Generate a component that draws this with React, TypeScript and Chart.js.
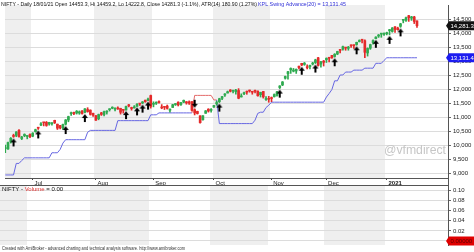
import { useEffect, useRef } from 'react';
import { Chart, registerables } from 'chart.js';

Chart.register(...registerables);

// ---------- data ----------
const dates = [
  '17/06/20','18/06/20','19/06/20','22/06/20','23/06/20','24/06/20','25/06/20','26/06/20','29/06/20','30/06/20',
  '01/07/20','02/07/20','03/07/20','06/07/20','07/07/20','08/07/20','09/07/20','10/07/20','13/07/20','14/07/20','15/07/20','16/07/20','17/07/20','20/07/20','21/07/20','22/07/20','23/07/20','24/07/20','27/07/20','28/07/20','29/07/20','30/07/20','31/07/20',
  '03/08/20','04/08/20','05/08/20','06/08/20','07/08/20','10/08/20','11/08/20','12/08/20','13/08/20','14/08/20','17/08/20','18/08/20','19/08/20','20/08/20','21/08/20','24/08/20','25/08/20','26/08/20','27/08/20','28/08/20','31/08/20',
  '01/09/20','02/09/20','03/09/20','04/09/20','07/09/20','08/09/20','09/09/20','10/09/20','11/09/20','14/09/20','15/09/20','16/09/20','17/09/20','18/09/20','21/09/20','22/09/20','23/09/20','24/09/20','25/09/20','28/09/20','29/09/20','30/09/20',
  '01/10/20','05/10/20','06/10/20','07/10/20','08/10/20','09/10/20','12/10/20','13/10/20','14/10/20','15/10/20','16/10/20','19/10/20','20/10/20','21/10/20','22/10/20','23/10/20','26/10/20','27/10/20','28/10/20','29/10/20','30/10/20',
  '02/11/20','03/11/20','04/11/20','05/11/20','06/11/20','09/11/20','10/11/20','11/11/20','12/11/20','13/11/20','14/11/20','17/11/20','18/11/20','19/11/20','20/11/20','23/11/20','24/11/20','25/11/20','26/11/20','27/11/20',
  '01/12/20','02/12/20','03/12/20','04/12/20','07/12/20','08/12/20','09/12/20','10/12/20','11/12/20','14/12/20','15/12/20','16/12/20','17/12/20','18/12/20','21/12/20','22/12/20','23/12/20','24/12/20','28/12/20','29/12/20','30/12/20','31/12/20',
  '01/01/21','04/01/21','05/01/21','06/01/21','07/01/21','08/01/21','11/01/21','12/01/21','13/01/21','14/01/21','15/01/21','18/01/21',
];

const opens = [
  9876,9863,10119,10318,10347,10529,10235,10337,10311,10382,
  10323,10484,10615,10723,10802,10818,10755,10764,10889,10750,10702,10612,10752,10901,11126,11174,11150,11149,11226,11175,11276,11254,11140,
  11058,10946,11155,11099,11186,11270,11322,11289,11334,11316,11248,11259,11409,11326,11334,11390,11474,11509,11609,11602,11777,
  11464,11500,11540,11355,11362,11400,11251,11350,11452,11540,11455,11539,11555,11550,11560,11270,11208,11052,10910,11140,11288,11244,
  11364,11487,11558,11679,11794,11867,11973,11935,11918,11958,11727,11843,11922,11958,11910,11937,11937,11807,11922,11633,11678,
  11697,11734,11783,12063,12157,12399,12556,12695,12651,12659,12829,12932,12892,12811,12813,12906,12960,13130,12906,13012,
  13062,13121,13215,13177,13265,13394,13441,13500,13470,13571,13573,13606,13713,13764,13741,13304,13473,13672,13815,13910,13980,13970,
  13997,14104,14075,14240,14192,14259,14474,14473,14639,14550,14594,14453.3,
];
const highs = [
  10003,10111,10272,10393,10484,10553,10316,10405,10337,10401,
  10447,10572,10631,10811,10813,10847,10819,10804,10894,10755,10712,10755,10918,11038,11180,11180,11240,11226,11239,11314,11341,11264,11150,
  11059,11112,11176,11217,11232,11300,11374,11337,11373,11323,11257,11396,11460,11361,11418,11490,11498,11562,11617,11686,11794,
  11554,11553,11584,11452,11381,11437,11304,11462,11494,11552,11536,11618,11562,11585,11562,11302,11218,11053,11060,11240,11305,11306,
  11428,11578,11680,11750,11849,11939,11991,11958,11997,12025,11838,11898,11940,11974,11924,11974,11943,11899,11929,11744,11749,
  11726,11836,11929,12131,12280,12474,12643,12769,12750,12730,12829,12934,12963,12879,12873,12969,13079,13146,13000,13036,
  13129,13128,13217,13280,13366,13435,13548,13503,13539,13597,13587,13692,13774,13773,13777,13486,13619,13772,13885,13967,13998,14024,
  14050,14148,14215,14245,14228,14367,14498,14590,14653,14617,14618,14459.2,
];
const lows = [
  9726,9845,10072,10277,10301,10282,10194,10301,10224,10267,
  10299,10461,10562,10695,10689,10676,10714,10713,10773,10560,10578,10562,10719,10836,11064,11087,11113,11104,11113,11151,11180,11076,11026,
  10882,10908,11064,11047,11112,11221,11303,11229,11279,11111,11145,11256,11370,11253,11325,11390,11419,11488,11534,11597,11326,
  11371,11455,11507,11304,11276,11290,11185,11349,11421,11403,11424,11524,11466,11458,11230,11082,11113,10790,10894,11139,11183,11179,
  11347,11430,11525,11630,11744,11867,11906,11867,11822,11661,11723,11806,11822,11898,11824,11875,11755,11723,11684,11606,11535,
  11557,11723,11756,12027,12131,12367,12365,12571,12625,12570,12730,12847,12860,12730,12730,12872,12924,12834,12790,12835,
  12962,12983,13107,13152,13241,13303,13400,13400,13402,13501,13464,13580,13697,13660,13131,13192,13432,13622,13811,13860,13865,13936,
  13951,13953,14048,14039,14122,14222,14383,14432,14435,14471,14358,14222.8,
];
const closes = [
  9881,10091,10244,10311,10471,10305,10288,10383,10312,10302,
  10430,10552,10607,10764,10800,10706,10813,10768,10802,10607,10618,10740,10902,11022,11162,11132,11215,11194,11132,11300,11202,11102,11073,
  10892,11095,11102,11200,11214,11270,11322,11308,11300,11178,11247,11385,11408,11312,11372,11466,11472,11549,11559,11647,11388,
  11470,11535,11527,11333,11355,11317,11278,11449,11464,11440,11521,11604,11516,11505,11250,11153,11132,10806,11050,11228,11222,11248,
  11417,11503,11662,11738,11834,11914,11930,11935,11971,11680,11762,11873,11897,11937,11896,11930,11768,11889,11730,11670,11642,
  11669,11813,11908,12120,12264,12461,12631,12749,12691,12720,12780,12874,12938,12772,12860,12926,13055,12858,12987,12969,
  13109,13114,13134,13258,13356,13393,13529,13479,13514,13558,13567,13683,13741,13761,13328,13466,13602,13749,13873,13932,13982,13982,
  14018,14133,14199,14146,14137,14347,14485,14564,14565,14596,14433,14281.3,
];

// KPL Swing Advance(20) stop line
const stopLine = [
  8930,8930,8930,8930,9344,9344,9448,9544,9544,9544,
  9544,9544,9544,9544,9544,9544,9544,9726,9726,9726,
  9845,10072,10194,10194,10194,10194,10194,10194,10194,10194,
  10461,10528,10528,10528,10528,10528,10528,10528,10528,10528,
  10528,10877,10877,10877,10877,10877,10877,10877,10877,10877,
  10877,10877,10877,11086,11086,11086,11155,11155,11155,11155,
  11155,11155,11155,11155,11155,11155,11155,11155,11155,11782,
  11782,11782,11782,11782,11782,11782,11619,11619,10772,10772,
  10772,10772,10772,10772,10772,10772,10772,10772,10772,10772,
  10772,10894,11139,11179,11179,11347,11430,11539,11539,11539,
  11539,11539,11539,11539,11539,11539,11539,11539,11539,11539,
  11539,11539,11539,11539,11539,11539,11539,11723,11850,11992,
  12305,12305,12514,12514,12619,12619,12619,12688,12688,12688,
  12688,12758,12758,12758,12758,12932,12932,12932,13037,13131.45,
  13131.45,13131.45,13131.45,13131.45,13131.45,13131.45,13131.45,13131.45,13131.45,13131.45,
  13131.45,
];
const shortSpans = [[69, 77]]; // bars where the stop is in "short" (red) mode
const buyIdx = [3, 12, 22, 29, 44, 48, 50, 52, 78, 100, 108, 113, 120, 128, 135, 140, 144];
const sellIdx = [69];

const monthLabels = ['Jul', 'Aug', 'Sep', 'Oct', 'Nov', 'Dec', '2021'];
const priceTicks = [9000, 9500, 10000, 10500, 11000, 11500, 12000, 12500, 13000, 13500, 14000, 14500];
const volTicks = [0, 0.02, 0.04, 0.06, 0.08, 0.1];
const volumeLast = 0;

const titleMain = 'NIFTY - Daily 18/01/21 Open 14453.3, Hi 14459.2, Lo 14222.8, Close 14281.3 (-1.1%), ATR(14) 180.90 (1.27%)';
const titleInd = 'KPL Swing Advance(20) = 13,131.45';
const footer = 'Created with AmiBroker - advanced charting and technical analysis software. http://www.amibroker.com';

// ---------- style ----------
const FONT = "'Liberation Sans', Arial, Helvetica, sans-serif";
const GREEN = '#2faa50';
const RED = '#e42a2a';
const BLUE_LINE = '#6767e2';
const RED_LINE = '#e46a6a';
const BAND = '#efefef';
const X_MIN = -0.1;
const X_MAX = 161.3;

// month starts derived from the dates
const monthStart: number[] = [0];
for (let i = 1; i < dates.length; i++) {
  if (dates[i].slice(3, 5) !== dates[i - 1].slice(3, 5)) monthStart.push(i);
}
const greyMonth = monthStart.map((_, k) => k % 2 === 0);

function isShort(i: number) {
  return shortSpans.some(([a, b]) => i >= a && i <= b);
}

function arrowCanvas(up: boolean) {
  const c = document.createElement('canvas');
  c.width = 8;
  c.height = 24;
  const g = c.getContext('2d')!;
  g.fillStyle = '#000';
  g.beginPath();
  if (up) {
    g.moveTo(4, 13); g.lineTo(7, 17); g.lineTo(1, 17);
    g.closePath(); g.fill();
    g.fillRect(3, 17, 2, 4);
  } else {
    g.moveTo(4, 11); g.lineTo(7, 7); g.lineTo(1, 7);
    g.closePath(); g.fill();
    g.fillRect(3, 3, 2, 4);
  }
  return c;
}

const bandsPlugin = {
  id: 'bands',
  beforeDraw(chart: any) {
    const { ctx, chartArea: a, scales } = chart;
    const x = scales.x;
    ctx.save();
    ctx.fillStyle = '#fff';
    ctx.fillRect(0, 0, chart.width, chart.height);
    ctx.fillStyle = BAND;
    for (let k = 0; k < monthStart.length; k++) {
      if (!greyMonth[k]) continue;
      const x0 = Math.max(a.left, Math.round(x.getPixelForValue(monthStart[k] - 0.5)));
      const endV = k + 1 < monthStart.length ? monthStart[k + 1] - 0.5 : X_MAX;
      const x1 = Math.min(a.right, Math.round(x.getPixelForValue(endV)));
      ctx.fillRect(x0, a.top, x1 - x0, a.bottom - a.top);
    }
    ctx.restore();
  },
};

function drawTag(ctx: CanvasRenderingContext2D, x0: number, y: number, w: number, text: string, bg: string, fg: string) {
  ctx.save();
  ctx.fillStyle = bg;
  ctx.beginPath();
  ctx.moveTo(x0 - 3, y);
  ctx.lineTo(x0, y - 4.5);
  ctx.lineTo(x0 + w, y - 4.5);
  ctx.lineTo(x0 + w, y + 4.5);
  ctx.lineTo(x0, y + 4.5);
  ctx.closePath();
  ctx.fill();
  ctx.fillStyle = fg;
  ctx.font = `6px ${FONT}`;
  ctx.textBaseline = 'middle';
  ctx.textAlign = 'left';
  ctx.fillText(text, x0 + 1.5, y + 0.5);
  ctx.restore();
}

function noPad(s: any) {
  s.paddingTop = 0;
  s.paddingBottom = 0;
  s.paddingLeft = 0;
  s.paddingRight = 0;
}

const topDecor = {
  id: 'topDecor',
  beforeDatasetsDraw(chart: any) {
    const { ctx } = chart;
    ctx.save();
    ctx.font = `13px ${FONT}`;
    ctx.fillStyle = '#c6c6c6';
    ctx.textBaseline = 'middle';
    ctx.textAlign = 'left';
    ctx.fillText('@vfmdirect', 384, 150, 62);
    ctx.restore();
  },
  afterDraw(chart: any) {
    const { ctx, chartArea: a, scales } = chart;
    ctx.save();
    ctx.font = `6px ${FONT}`;
    ctx.textBaseline = 'middle';
    ctx.textAlign = 'left';
    ctx.fillStyle = '#111';
    ctx.fillText(titleMain, 1, 4.5, 256);
    ctx.fillStyle = '#3030d8';
    ctx.fillText(titleInd, 258, 4.5, 88);
    // axis line continuing through the date strip
    ctx.strokeStyle = '#555';
    ctx.lineWidth = 1;
    ctx.beginPath();
    ctx.moveTo(a.right + 0.5, a.bottom);
    ctx.lineTo(a.right + 0.5, chart.height);
    ctx.stroke();
    ctx.restore();
    const last = closes.length - 1;
    drawTag(ctx, a.right + 1, scales.y.getPixelForValue(closes[last]), 26, closes[last].toLocaleString('en-US', { minimumFractionDigits: 1 }), '#111', '#fff');
    drawTag(ctx, a.right + 1, scales.y.getPixelForValue(stopLine[last]), 26, stopLine[last].toLocaleString('en-US', { minimumFractionDigits: 2 }), '#1c1cf0', '#fff');
  },
};

const bottomDecor = {
  id: 'bottomDecor',
  afterDraw(chart: any) {
    const { ctx, chartArea: a, scales } = chart;
    ctx.save();
    ctx.strokeStyle = '#555';
    ctx.lineWidth = 1;
    ctx.beginPath();
    ctx.moveTo(a.left, 0.5);
    ctx.lineTo(a.right + 1, 0.5);
    ctx.stroke();
    ctx.font = `6px ${FONT}`;
    ctx.textBaseline = 'middle';
    ctx.textAlign = 'left';
    let x = 2;
    const parts: [string, string][] = [['NIFTY - ', '#111'], ['Volume', '#e03030'], [' = ' + volumeLast.toFixed(2), '#111']];
    for (const [t, c] of parts) {
      ctx.fillStyle = c;
      ctx.fillText(t, x, 4);
      x += ctx.measureText(t).width;
    }
    ctx.font = `5px ${FONT}`;
    ctx.fillStyle = '#333';
    ctx.fillText(footer, 2, 64, 183);
    ctx.restore();
    drawTag(ctx, a.right + 1, scales.y.getPixelForValue(volumeLast), 26, volumeLast.toFixed(5), '#e00000', '#5a0000');
  },
};

function makeTop(canvas: HTMLCanvasElement) {
  const idx = closes.map((_, i) => i);
  const colors = idx.map((i) => (closes[i] >= opens[i] ? GREEN : RED));
  return new Chart(canvas, {
    type: 'bar',
    data: {
      datasets: [
        {
          type: 'scatter',
          data: buyIdx.map((i) => ({ x: i, y: lows[i] })),
          pointStyle: arrowCanvas(true),
          pointRadius: 3,
          order: 0,
        } as any,
        {
          type: 'scatter',
          data: sellIdx.map((i) => ({ x: i, y: highs[i] })),
          pointStyle: arrowCanvas(false),
          pointRadius: 3,
          order: 0,
        } as any,
        {
          type: 'bar',
          data: idx.map((i) => ({ x: i, y: [opens[i], closes[i]] })),
          backgroundColor: colors,
          barThickness: 2,
          minBarLength: 1,
          grouped: false,
          borderWidth: 0,
          order: 1,
        } as any,
        {
          type: 'bar',
          data: idx.map((i) => ({ x: i, y: [lows[i], highs[i]] })),
          backgroundColor: colors,
          barThickness: 1,
          grouped: false,
          borderWidth: 0,
          order: 2,
        } as any,
        {
          type: 'line',
          data: idx.map((i) => ({ x: i, y: stopLine[i] })),
          borderColor: BLUE_LINE,
          borderWidth: 1,
          pointRadius: 0,
          tension: 0,
          segment: {
            borderColor: (c: any) => (isShort(c.p1DataIndex) ? RED_LINE : BLUE_LINE),
          },
          order: 3,
        } as any,
      ],
    },
    options: {
      responsive: false,
      animation: false,
      events: [],
      layout: { padding: 0 },
      plugins: { legend: { display: false }, tooltip: { enabled: false } },
      scales: {
        x: {
          type: 'linear',
          min: X_MIN,
          max: X_MAX,
          offset: false,
          afterBuildTicks: (s: any) => {
            s.ticks = monthStart.slice(1).map((v) => ({ value: v }));
          },
          afterFit: (s: any) => {
            s.height = 7;
            noPad(s);
          },
          grid: { drawOnChartArea: false, drawTicks: true, tickLength: 2, color: '#444', offset: false },
          border: { display: true, color: '#555' },
          ticks: {
            autoSkip: false,
            maxRotation: 0,
            padding: 0,
            align: 'start',
            color: '#222',
            font: (c: any) => ({ family: FONT, size: 6, weight: c.index === monthLabels.length - 1 ? 'bold' : 'normal' }),
            callback: (_v: any, i: number) => ' ' + monthLabels[i],
          },
        },
        y: {
          type: 'linear',
          position: 'right',
          min: 8821,
          max: 15023,
          afterBuildTicks: (s: any) => {
            s.ticks = priceTicks.map((v) => ({ value: v }));
          },
          afterFit: (s: any) => {
            s.width = 26;
            noPad(s);
          },
          grid: { color: '#dcdcdc', tickLength: 3, tickColor: '#666' },
          border: { display: true, color: '#555' },
          ticks: {
            padding: 2,
            color: '#222',
            font: { family: FONT, size: 6 },
            callback: (v: any) => Number(v).toLocaleString('en-US'),
          },
        },
      },
    } as any,
    plugins: [bandsPlugin, topDecor],
  });
}

function makeBottom(canvas: HTMLCanvasElement) {
  return new Chart(canvas, {
    type: 'bar',
    data: { datasets: [{ type: 'bar', data: [], backgroundColor: '#888' } as any] },
    options: {
      responsive: false,
      animation: false,
      events: [],
      layout: { padding: { bottom: 7 } },
      plugins: { legend: { display: false }, tooltip: { enabled: false } },
      scales: {
        x: { type: 'linear', min: X_MIN, max: X_MAX, offset: false, display: false },
        y: {
          type: 'linear',
          position: 'right',
          min: -0.008,
          max: 0.111,
          afterBuildTicks: (s: any) => {
            s.ticks = volTicks.map((v) => ({ value: v }));
          },
          afterFit: (s: any) => {
            s.width = 26;
            noPad(s);
          },
          grid: { color: '#dcdcdc', tickLength: 3, tickColor: '#666' },
          border: { display: true, color: '#555' },
          ticks: {
            padding: 2,
            color: '#222',
            font: { family: FONT, size: 6 },
            callback: (v: any) => Number(v).toFixed(2),
          },
        },
      },
    } as any,
    plugins: [bandsPlugin, bottomDecor],
  });
}

export default function App() {
  const topRef = useRef<HTMLCanvasElement>(null);
  const botRef = useRef<HTMLCanvasElement>(null);
  useEffect(() => {
    document.body.style.margin = '0';
    const charts = [makeTop(topRef.current!), makeBottom(botRef.current!)];
    return () => charts.forEach((c) => c.destroy());
  }, []);
  return (
    <div style={{ position: 'fixed', left: 0, top: 0, width: 474, height: 252, background: '#fff', overflow: 'hidden' }}>
      <canvas ref={topRef} width={474} height={185} style={{ position: 'absolute', left: 0, top: 0 }} />
      <canvas ref={botRef} width={474} height={67} style={{ position: 'absolute', left: 0, top: 185 }} />
    </div>
  );
}
